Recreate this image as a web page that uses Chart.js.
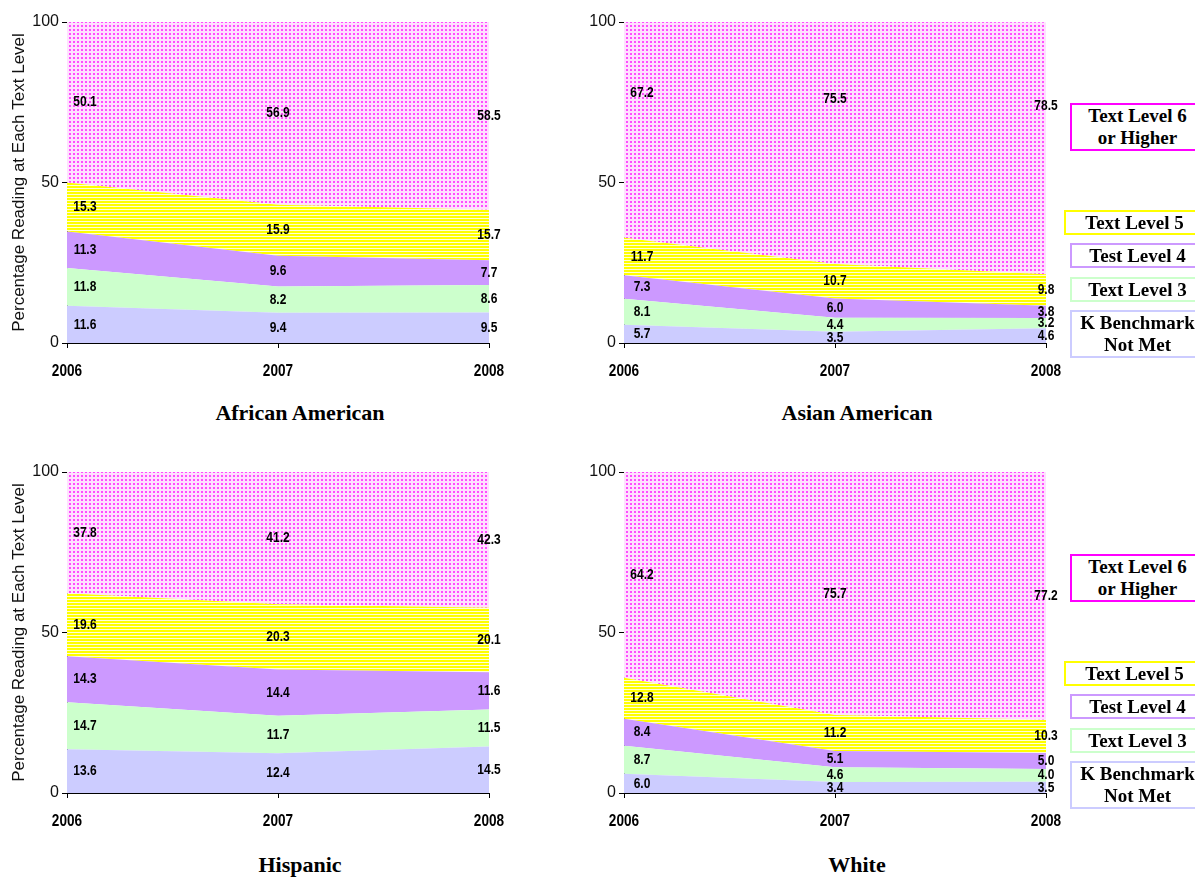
<!DOCTYPE html>
<html>
<head>
<meta charset="utf-8">
<title>Reading Levels by Group, 2006–2008</title>
<script src="https://cdn.jsdelivr.net/npm/chart.js@4.4.1/dist/chart.umd.min.js"></script>
<style>
  html, body { margin: 0; padding: 0; background: #fff; }
  body { position: relative; width: 1195px; height: 877px; overflow: hidden; }
  canvas { position: absolute; }
  .panel-title {
    position: absolute; width: 300px; text-align: center;
    font: bold 22px 'Liberation Serif', 'Times New Roman', serif; color: #000;
    line-height: 24px;
  }
  .key {
    position: absolute; box-sizing: border-box; background: #fff;
    border: 2px solid; text-align: center; color: #000;
    font: bold 19px 'Liberation Serif', 'Times New Roman', serif;
    display: flex; flex-direction: column; justify-content: center; line-height: 22px;
  }
</style>
</head>
<body>
<canvas id="c-aa" width="540" height="400" style="left:0;top:0"></canvas>
<canvas id="c-as" width="540" height="400" style="left:557px;top:0"></canvas>
<canvas id="c-hi" width="540" height="400" style="left:0;top:450px"></canvas>
<canvas id="c-wh" width="540" height="400" style="left:557px;top:450px"></canvas>

<div class="panel-title" style="left:150px;top:401px">African American</div>
<div class="panel-title" style="left:707px;top:401px">Asian American</div>
<div class="panel-title" style="left:150px;top:853px">Hispanic</div>
<div class="panel-title" style="left:707px;top:853px">White</div>

<div id="keys"></div>

<script>
// Years on the horizontal axis
const years = ['2006', '2007', '2008'];

// Series names, bottom band first
const seriesNames = ['K Benchmark Not Met', 'Text Level 3', 'Test Level 4', 'Text Level 5', 'Text Level 6 or Higher'];

// Vertical axis ticks
const yTicks = [0, 50, 100];

// Percentages per group (2006, 2007, 2008)
const africanKNotMet = [11.6, 9.4, 9.5];
const africanLevel3  = [11.8, 8.2, 8.6];
const africanLevel4  = [11.3, 9.6, 7.7];
const africanLevel5  = [15.3, 15.9, 15.7];
const africanLevel6  = [50.1, 56.9, 58.5];

const asianKNotMet = [5.7, 3.5, 4.6];
const asianLevel3  = [8.1, 4.4, 3.2];
const asianLevel4  = [7.3, 6.0, 3.8];
const asianLevel5  = [11.7, 10.7, 9.8];
const asianLevel6  = [67.2, 75.5, 78.5];

const hispanicKNotMet = [13.6, 12.4, 14.5];
const hispanicLevel3  = [14.7, 11.7, 11.5];
const hispanicLevel4  = [14.3, 14.4, 11.6];
const hispanicLevel5  = [19.6, 20.3, 20.1];
const hispanicLevel6  = [37.8, 41.2, 42.3];

const whiteKNotMet = [6.0, 3.4, 3.5];
const whiteLevel3  = [8.7, 4.6, 4.0];
const whiteLevel4  = [8.4, 5.1, 5.0];
const whiteLevel5  = [12.8, 11.2, 10.3];
const whiteLevel6  = [64.2, 75.7, 77.2];

// ---- fills ----
function makeTile(w, h, paint) {
  const c = document.createElement('canvas');
  c.width = w; c.height = h;
  paint(c.getContext('2d'));
  return c;
}
const dotTile = makeTile(4, 4, g => {
  g.fillStyle = '#ffe0ff'; g.fillRect(0, 0, 4, 4);
  g.fillStyle = '#ff4dff'; g.fillRect(1, 1, 2, 2);
});
const stripeTile = makeTile(1, 3, g => {
  g.fillStyle = '#ffff00'; g.fillRect(0, 0, 1, 2);
  g.fillStyle = '#ffffd8'; g.fillRect(0, 2, 1, 1);
});
const helper = document.createElement('canvas').getContext('2d');
const fills = [
  '#ccccff',
  '#ccffcc',
  '#cc99ff',
  helper.createPattern(stripeTile, 'repeat'),
  helper.createPattern(dotTile, 'repeat')
];
const keyBorders = ['#ccccff', '#ccffcc', '#cc99ff', '#ffff00', '#ff00ff'];

const sansFamily = "'Liberation Sans', Arial, sans-serif";
const NARROW = 0.8; // horizontal squeeze giving a narrow bold face

function narrowText(ctx, text, x, y, size) {
  ctx.save();
  ctx.font = 'bold ' + size + 'px ' + sansFamily;
  ctx.translate(x, y);
  ctx.scale(NARROW, 1);
  ctx.fillText(text, 0, 0);
  ctx.restore();
}

// Values written inside each band (middle of the band unless a level is given for the top band)
const bandLabels = {
  id: 'bandLabels',
  afterDatasetsDraw(chart, args, opts) {
    const { ctx, scales: { x, y } } = chart;
    const top = chart.data.datasets.length - 1;
    ctx.save();
    ctx.fillStyle = '#000';
    ctx.textAlign = 'center';
    ctx.textBaseline = 'middle';
    chart.data.labels.forEach((_, i) => {
      let base = 0;
      chart.data.datasets.forEach((ds, k) => {
        const v = ds.data[i];
        let level = base + v / 2;
        if (k === top && opts.topLevels) level = opts.topLevels[i];
        base += v;
        let px = x.getPixelForValue(i);
        if (i === 0) px += 18;
        narrowText(ctx, v.toFixed(1), px, y.getPixelForValue(level), 15);
      });
    });
    ctx.restore();
  }
};

// Year labels under the axis in the same narrow bold face
const yearLabels = {
  id: 'yearLabels',
  afterDraw(chart) {
    const { ctx, chartArea, scales: { x } } = chart;
    ctx.save();
    ctx.fillStyle = '#000';
    ctx.textAlign = 'center';
    ctx.textBaseline = 'middle';
    chart.data.labels.forEach((lab, i) => {
      narrowText(ctx, lab, x.getPixelForValue(i), chartArea.bottom + 28, 17);
    });
    ctx.restore();
  }
};

function drawPanel(id, bands, showYTitle, topLevels) {
  const datasets = bands.map((vals, k) => ({
    label: seriesNames[k],
    data: vals,
    backgroundColor: fills[k],
    borderWidth: 0,
    pointRadius: 0,
    tension: 0,
    fill: k === 0 ? 'origin' : '-1'
  }));
  new Chart(document.getElementById(id), {
    type: 'line',
    data: { labels: years, datasets },
    plugins: [bandLabels, yearLabels],
    options: {
      responsive: false,
      animation: false,
      layout: { padding: { top: 22, right: 51, left: 0, bottom: 0 } },
      plugins: {
        legend: { display: false },
        tooltip: { enabled: false },
        bandLabels: { topLevels }
      },
      scales: {
        x: {
          offset: false,
          grid: { drawOnChartArea: false, drawTicks: true, tickLength: 5, color: '#000' },
          border: { display: true, color: '#000', width: 1 },
          ticks: { color: 'rgba(0,0,0,0)', padding: 14, maxRotation: 0, autoSkip: false,
                   font: { family: sansFamily, size: 14, weight: 'bold' } },
          afterFit(s) { s.height = 57; }
        },
        y: {
          stacked: true,
          min: 0, max: 100,
          afterBuildTicks(s) { s.ticks = yTicks.map(v => ({ value: v })); },
          grid: { drawOnChartArea: false, drawTicks: true, tickLength: 5, color: '#000' },
          border: { display: true, color: '#000', width: 1 },
          ticks: { color: '#111', padding: 3, font: { family: sansFamily, size: 16 } },
          title: {
            display: showYTitle,
            text: 'Percentage Reading at Each Text Level',
            color: '#111',
            padding: { top: 9, bottom: 0 },
            font: { family: sansFamily, size: 17 }
          },
          afterFit(s) { s.width = 67; }
        }
      }
    }
  });
}

drawPanel('c-aa', [africanKNotMet, africanLevel3, africanLevel4, africanLevel5, africanLevel6], true);
drawPanel('c-as', [asianKNotMet, asianLevel3, asianLevel4, asianLevel5, asianLevel6], false, [78, 76, 74]);
drawPanel('c-hi', [hispanicKNotMet, hispanicLevel3, hispanicLevel4, hispanicLevel5, hispanicLevel6], true);
drawPanel('c-wh', [whiteKNotMet, whiteLevel3, whiteLevel4, whiteLevel5, whiteLevel6], false);

// Boxed keys beside the right-hand panels, top band first
const keyText = ['K Benchmark<br>Not Met', 'Text Level 3', 'Test Level 4', 'Text Level 5', 'Text Level 6<br>or Higher'];
const keyBoxes = [
  { k: 4, left: 1070, top: 103, h: 48 },
  { k: 3, left: 1064, top: 210, h: 25 },
  { k: 2, left: 1070, top: 243, h: 25 },
  { k: 1, left: 1070, top: 277, h: 25 },
  { k: 0, left: 1070, top: 310, h: 48 }
];
const keyHolder = document.getElementById('keys');
[0, 451].forEach(shift => {
  keyBoxes.forEach(b => {
    const d = document.createElement('div');
    d.className = 'key';
    d.style.left = b.left + 'px';
    d.style.top = (b.top + shift) + 'px';
    d.style.width = (1205 - b.left) + 'px';
    d.style.height = b.h + 'px';
    d.style.borderColor = keyBorders[b.k];
    d.innerHTML = keyText[b.k];
    keyHolder.appendChild(d);
  });
});
</script>
</body>
</html>
